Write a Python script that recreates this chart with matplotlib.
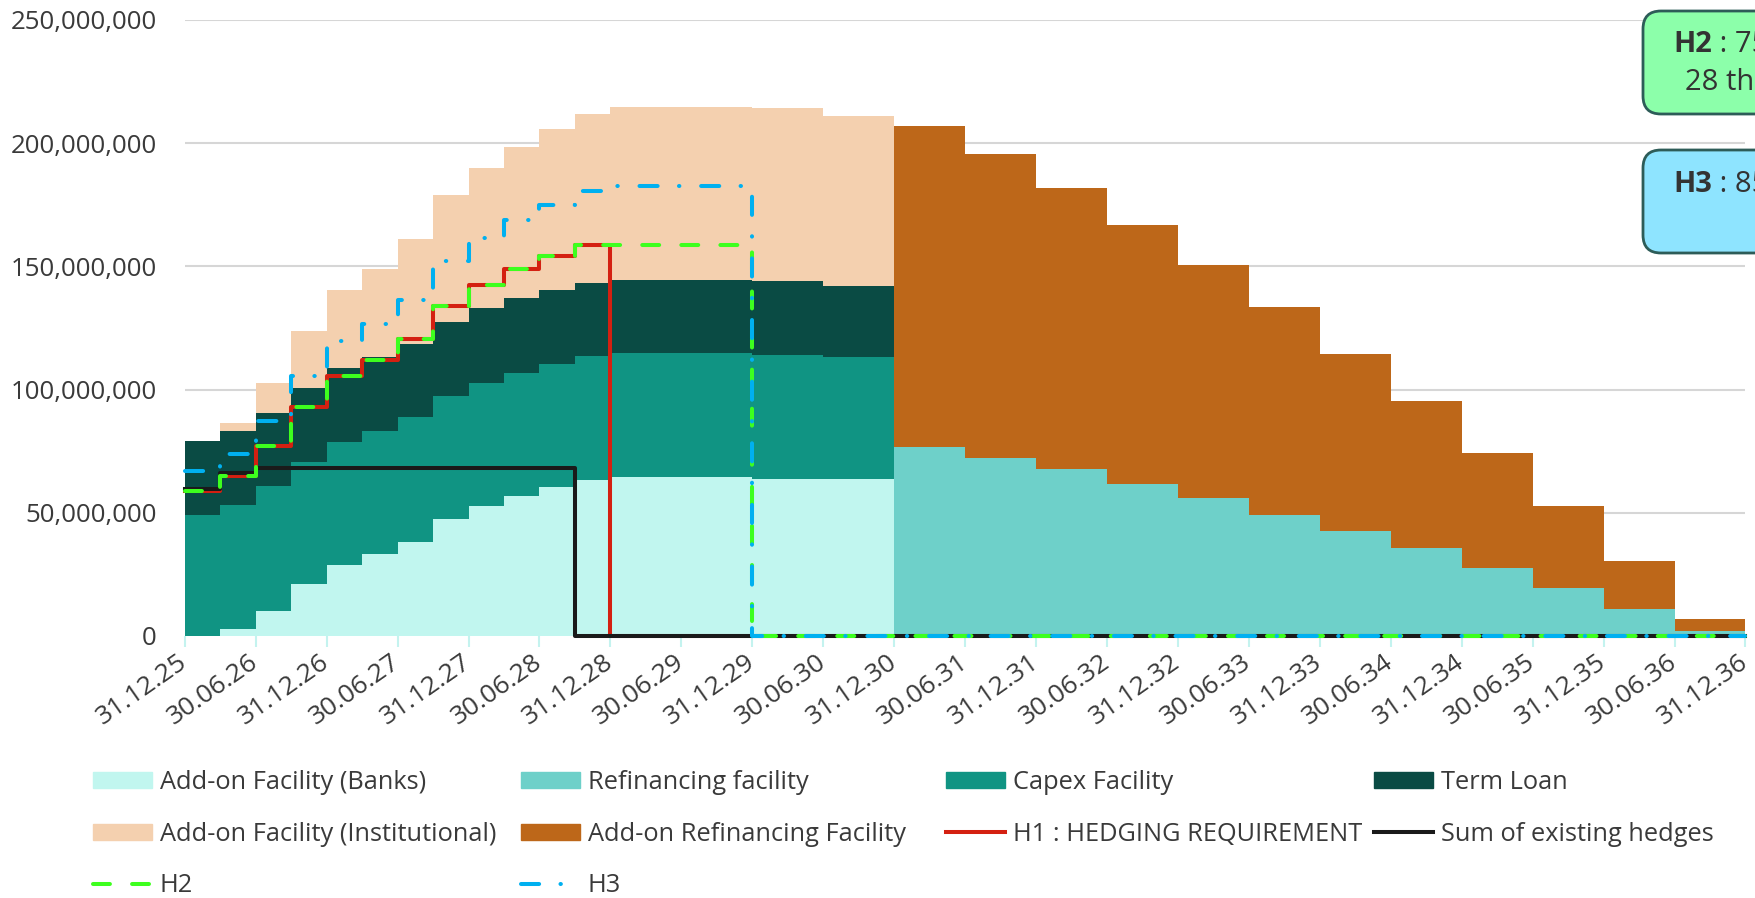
import numpy as np
import matplotlib.pyplot as plt
from matplotlib.patches import Patch, FancyBboxPatch
from matplotlib.lines import Line2D
from matplotlib.text import Annotation
from matplotlib.ticker import FuncFormatter
from matplotlib.transforms import IdentityTransform

plt.rcParams['font.family'] = ['Open Sans', 'DejaVu Sans']

# half-year tick labels, one period per quarter in between
tick_labels = ['31.12.25', '30.06.26', '31.12.26', '30.06.27', '31.12.27', '30.06.28',
               '31.12.28', '30.06.29', '31.12.29', '30.06.30', '31.12.30', '30.06.31',
               '31.12.31', '30.06.32', '31.12.32', '30.06.33', '31.12.33', '30.06.34',
               '31.12.34', '30.06.35', '31.12.35', '30.06.36', '31.12.36']

# outstanding amounts per quarter, in millions
banks = [0, 2.9, 10.3, 20.9, 29.0, 33.2, 38.3, 47.5, 52.8, 57.0, 60.4, 63.1,
         64.4, 64.4, 64.4, 64.4, 63.8, 63.8, 63.5, 63.5,
         0, 0, 0, 0, 0, 0, 0, 0, 0, 0, 0, 0, 0, 0, 0, 0, 0, 0, 0, 0, 0, 0, 0, 0]
refi = [0, 0, 0, 0, 0, 0, 0, 0, 0, 0, 0, 0, 0, 0, 0, 0, 0, 0, 0, 0,
        76.5, 76.5, 72.4, 72.4, 67.6, 67.6, 61.6, 61.6, 55.8, 55.8, 49.1, 49.1,
        42.5, 42.5, 35.5, 35.5, 27.4, 27.4, 19.6, 19.6, 10.8, 10.8, 2.2, 2.2]
capex = [49.0, 50.4, 50.6, 49.8, 49.9, 49.8, 50.4, 49.8, 49.9, 49.9, 50.0, 50.4,
         50.6, 50.6, 50.6, 50.6, 50.4, 50.4, 49.6, 49.6,
         0, 0, 0, 0, 0, 0, 0, 0, 0, 0, 0, 0, 0, 0, 0, 0, 0, 0, 0, 0, 0, 0, 0, 0]
term = [30.0, 29.7, 29.7, 30.1, 30.0, 30.2, 29.7, 30.2, 30.3, 30.1, 30.1, 29.8,
        29.6, 29.6, 29.6, 29.6, 29.8, 29.8, 29.1, 29.1,
        0, 0, 0, 0, 0, 0, 0, 0, 0, 0, 0, 0, 0, 0, 0, 0, 0, 0, 0, 0, 0, 0, 0, 0]
inst = [0, 3.5, 12.1, 23.0, 31.6, 35.7, 42.6, 51.3, 57.0, 61.5, 65.3, 68.7,
        70.2, 70.2, 70.2, 70.2, 70.3, 70.3, 69.0, 69.0,
        0, 0, 0, 0, 0, 0, 0, 0, 0, 0, 0, 0, 0, 0, 0, 0, 0, 0, 0, 0, 0, 0, 0, 0]
addon_refi = [0, 0, 0, 0, 0, 0, 0, 0, 0, 0, 0, 0, 0, 0, 0, 0, 0, 0, 0, 0,
              130.6, 130.6, 123.3, 123.3, 114.3, 114.3, 105.0, 105.0, 94.6, 94.6,
              84.2, 84.2, 72.1, 72.1, 60.0, 60.0, 46.8, 46.8, 33.3, 33.3,
              19.6, 19.6, 4.8, 4.8]

# hedge lines, in millions
h1 = [58.7, 64.9, 76.9, 92.9, 105.4, 112.0, 120.6, 134.1, 142.5, 148.9, 154.3, 158.7,
      0, 0, 0, 0, 0, 0, 0, 0, 0, 0, 0, 0, 0, 0, 0, 0, 0, 0, 0, 0, 0, 0, 0, 0, 0, 0, 0, 0, 0, 0, 0, 0]
h2 = [58.7, 64.9, 76.9, 92.9, 105.4, 112.0, 120.6, 134.1, 142.5, 148.9, 154.3, 158.7,
      158.7, 158.7, 158.7, 158.7,
      0, 0, 0, 0, 0, 0, 0, 0, 0, 0, 0, 0, 0, 0, 0, 0, 0, 0, 0, 0, 0, 0, 0, 0, 0, 0, 0, 0]
h3 = [67.1, 73.7, 87.3, 105.4, 119.7, 126.8, 136.3, 152.1, 161.4, 168.8, 174.7, 180.5,
      182.8, 182.8, 182.8, 182.8,
      0, 0, 0, 0, 0, 0, 0, 0, 0, 0, 0, 0, 0, 0, 0, 0, 0, 0, 0, 0, 0, 0, 0, 0, 0, 0, 0, 0]
existing = [59.5, 66.0, 68.0, 68.0, 68.0, 68.0, 68.0, 68.0, 68.0, 68.0, 68.0,
            0, 0, 0, 0, 0, 0, 0, 0, 0, 0, 0, 0, 0, 0, 0, 0, 0, 0, 0, 0, 0, 0, 0, 0, 0, 0, 0, 0, 0, 0, 0, 0, 0]

layers = [('Add-on Facility (Banks)', banks, '#C1F6EF'),
          ('Refinancing facility', refi, '#6ED0C9'),
          ('Capex Facility', capex, '#109483'),
          ('Term Loan', term, '#0A4B44'),
          ('Add-on Facility (Institutional)', inst, '#F4D0AF'),
          ('Add-on Refinancing Facility', addon_refi, '#BD6719')]

c_red = '#D42011'
c_green = '#3DFF1E'
c_blue = '#00B0F0'
c_black = '#1A1A1A'
c_text = '#3A3A3A'
green_dash = (0, (4.2, 5.5))
blue_dashdot = (0, (4.5, 5.3, 0.1, 5.4))


def stepped(vals):
    v = np.array(vals) * 1e6
    return np.append(v, v[-1])


fig = plt.figure(figsize=(17.56, 8.98), dpi=100)
ax = fig.add_axes([0.1052, 0.2918, 0.8888, 0.6860])

x = np.arange(len(banks) + 1)
base = np.zeros(len(x))
for name, vals, col in layers:
    top = base + stepped(vals)
    ax.fill_between(x, base, top, step='post', color=col, lw=0, zorder=2)
    base = top

lw = 2.9
ax.step(x, stepped(h1), where='post', color=c_red, lw=lw, zorder=4, clip_on=False)
ax.step(x, stepped(existing), where='post', color=c_black, lw=lw, zorder=5, clip_on=False)
ax.step(x, stepped(h2), where='post', color=c_green, lw=lw, ls=green_dash,
        dash_capstyle='round', zorder=6, clip_on=False)
ax.step(x, stepped(h3), where='post', color=c_blue, lw=lw, ls=blue_dashdot,
        dash_capstyle='round', zorder=7, clip_on=False)

ax.set_xlim(0, len(banks))
ax.set_ylim(0, 250e6)
ax.set_yticks(np.arange(0, 250e6 + 1, 50e6))
ax.yaxis.set_major_formatter(FuncFormatter(lambda v, p: f'{v:,.0f}'))
ax.set_xticks(np.arange(0, len(banks) + 1, 2))
ax.set_xticklabels(tick_labels, rotation=35, ha='right', va='center',
                   rotation_mode='anchor')
ax.tick_params(axis='x', length=8, width=1.5, color='#C4F3EF', labelsize=19,
               labelcolor=c_text, pad=9)
ax.tick_params(axis='y', length=0, labelsize=18.6, labelcolor=c_text, pad=20)
ax.grid(axis='y', color='#D6D6D6', lw=1.5, zorder=0)
ax.set_axisbelow(True)
for s in ax.spines.values():
    s.set_visible(False)

# legend, four fixed-width columns
legend_cols = [
    [Patch(color=layers[0][2], label=layers[0][0]),
     Patch(color=layers[4][2], label=layers[4][0]),
     Line2D([], [], color=c_green, lw=lw, ls=green_dash, dash_capstyle='round', label='H2')],
    [Patch(color=layers[1][2], label=layers[1][0]),
     Patch(color=layers[5][2], label=layers[5][0]),
     Line2D([], [], color=c_blue, lw=lw, ls=blue_dashdot, dash_capstyle='round', label='H3')],
    [Patch(color=layers[2][2], label=layers[2][0]),
     Line2D([], [], color=c_red, lw=lw, label='H1 : HEDGING REQUIREMENT')],
    [Patch(color=layers[3][2], label=layers[3][0]),
     Line2D([], [], color=c_black, lw=lw, label='Sum of existing hedges')],
]
col_x = [93, 521, 946, 1374]
W, H = 1756, 898
for hx, handles in zip(col_x, legend_cols):
    fig.legend(handles=handles, loc='upper left', bbox_to_anchor=(hx / W, 1 - 770 / H),
               frameon=False, borderpad=0, borderaxespad=0, fontsize=18.3,
               handlelength=2.33, handleheight=0.62, handletextpad=0.3,
               labelspacing=1.05, labelcolor=c_text)

# annotation boxes on the right edge
boxes = [(11, 114, '#8CFFAA', 'H2', ' : 75% until 31.12.', '28 then flat to 31.12.29', 45, 82),
         (150, 253, '#8EE4FF', 'H3', ' : 85% until 31.12.29', None, 184, None)]
for top, bottom, fc, key, rest, line2, y1, y2 in boxes:
    box = FancyBboxPatch((1643, H - bottom), 400, bottom - top,
                         boxstyle='round,pad=0,rounding_size=18',
                         transform=IdentityTransform(), fc=fc, ec='#2D5C58', lw=2, zorder=3)
    fig.add_artist(box)
    t = fig.text(1673 / W, 1 - y1 / H, key, fontsize=21, fontweight='bold',
                 color='#333333', va='center', ha='left', zorder=4)
    fig.add_artist(Annotation(rest, xy=(1, 0), xycoords=t, fontsize=21, color='#333333',
                              va='bottom', ha='left', zorder=4))
    if line2:
        fig.text(1685 / W, 1 - y2 / H, line2, fontsize=21, color='#333333',
                 va='center', ha='left', zorder=4)

fig.savefig('out.png', dpi=100)
